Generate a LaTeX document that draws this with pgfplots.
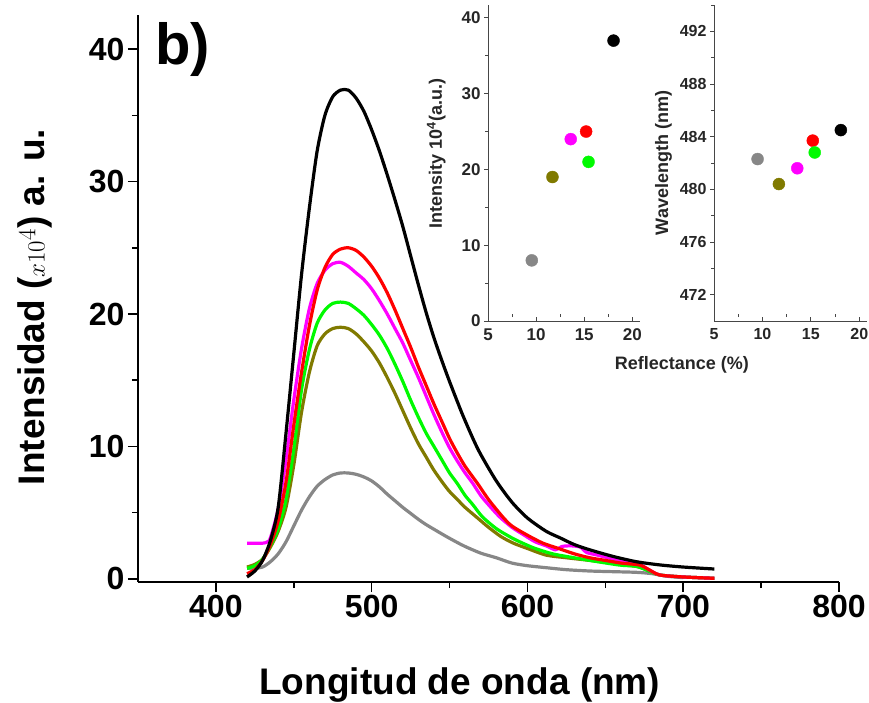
\documentclass[border=0pt]{standalone}
\usepackage{pgfplots}
\pgfplotsset{compat=1.18}
\usepackage{fontspec}
\setmainfont{Liberation Sans}
\definecolor{cRed}{RGB}{255,0,0}
\definecolor{cMag}{RGB}{255,0,255}
\definecolor{cGreen}{RGB}{0,250,0}
\definecolor{cOlive}{RGB}{128,122,0}
\definecolor{cGray}{RGB}{135,135,135}
\definecolor{cAx}{RGB}{70,70,70}
\begin{document}
\begin{tikzpicture}
\path[use as bounding box] (-138pt,-120pt) rectangle (731pt,582pt);
\begin{axis}[
  at={(0pt,0pt)}, anchor=south west,
  scale only axis, width=701pt, height=567pt,
  xmin=350, xmax=800, ymin=-0.23, ymax=42.57,
  axis lines=left, axis line style={-, line width=1.8pt},
  tick align=outside, major tick length=10pt, minor tick length=6pt,
  tick style={line width=1.5pt, black},
  xtick={400,500,...,800}, minor xtick={450,550,650,750},
  ytick={0,10,...,40}, minor ytick={5,15,25,35},
  /pgf/number format/assume math mode=true,
  ticklabel style={font=\bfseries\fontsize{32}{32}\selectfont},
  xlabel={\bfseries Longitud de onda (nm)},
  ylabel={\bfseries Intensidad ($x10^4$) a. u.},
  label style={font=\fontsize{37}{37}\selectfont},
  xlabel style={at={(axis description cs:0.459,-0.182)}, anchor=center},
  ylabel style={at={(axis description cs:-0.147,0.485)}, anchor=center, rotate=0},
  clip=false,
  every axis plot/.append style={line width=3.2pt, line join=round, smooth, tension=0.45},
]
% gray
\addplot[cGray] coordinates {
(420,0.8)(425,0.8)(430,0.9)(435,1.3)(440,1.9)(445,2.8)(450,4.0)(455,5.2)(460,6.2)(465,7.0)(470,7.5)(475,7.85)(480,8.0)(485,8.0)(490,7.9)(495,7.7)(500,7.4)(505,6.95)(510,6.4)(515,5.9)(520,5.4)(525,4.95)(530,4.5)(535,4.1)(540,3.75)(548,3.2)(555,2.75)(560,2.45)(570,1.95)(580,1.6)(590,1.2)(600,1.0)(612,0.85)(625,0.7)(640,0.6)(655,0.55)(670,0.5)(680,0.4)(690,0.2)(700,0.1)};
% olive
\addplot[cOlive] coordinates {
(420,0.9)(425,1.1)(430,1.5)(435,2.4)(440,3.6)(445,5.4)(450,8.6)(455,12.6)(460,15.6)(465,17.6)(470,18.5)(475,18.9)(480,19.0)(485,18.9)(490,18.5)(495,17.9)(500,17.2)(505,16.3)(510,15.2)(515,14.0)(520,12.7)(525,11.4)(530,10.2)(535,9.2)(540,8.2)(546,7.2)(550,6.6)(555,6.0)(560,5.4)(568,4.6)(575,3.9)(583,3.2)(591,2.7)(600,2.3)(612,1.8)(625,1.6)(640,1.4)(660,1.1)(672,0.9)(678,0.6)(685,0.3)(700,0.15)(720,0.05)};
% green
\addplot[cGreen] coordinates {
(420,0.8)(425,1.0)(430,1.5)(435,2.5)(440,3.8)(445,6.0)(450,9.8)(455,14.3)(460,17.3)(465,19.3)(470,20.3)(475,20.8)(480,20.9)(485,20.8)(490,20.4)(495,19.9)(500,19.2)(505,18.4)(510,17.4)(515,16.2)(520,14.9)(525,13.5)(530,12.2)(535,11.0)(540,10.0)(545,9.0)(550,8.0)(555,7.2)(560,6.3)(565,5.6)(571,4.7)(580,3.8)(590,3.1)(597,2.7)(605,2.3)(616,1.9)(625,1.7)(640,1.4)(659,1.05)(670,0.95)(678,0.6)(685,0.3)(700,0.15)(720,0.05)};
% magenta
\addplot[cMag] coordinates {
(420,2.7)(430,2.7)(433,2.8)(435,3.1)(440,5.3)(445,9.0)(450,13.5)(455,17.4)(460,20.4)(465,22.3)(470,23.3)(475,23.8)(480,23.9)(485,23.6)(490,23.1)(495,22.6)(500,21.9)(505,21.0)(510,20.0)(515,18.9)(520,17.8)(525,16.5)(530,15.2)(535,13.8)(540,12.4)(545,11.1)(550,9.9)(555,8.9)(560,8.0)(565,7.2)(570,6.3)(575,5.6)(582,4.7)(590,3.9)(598,3.3)(605,2.8)(612,2.5)(618,2.2)(622,2.45)(628,2.5)(634,2.4)(638,2.0)(645,1.8)(655,1.5)(665,1.3)(672,1.1)(678,0.7)(685,0.3)(700,0.15)(720,0.05)};
% red
\addplot[cRed] coordinates {
(420,0.4)(425,0.7)(430,1.4)(435,2.6)(440,4.4)(445,7.3)(450,11.6)(455,15.6)(460,19.1)(465,21.8)(470,23.5)(475,24.5)(480,24.9)(485,25.0)(490,24.8)(495,24.3)(500,23.6)(505,22.7)(510,21.6)(515,20.3)(520,18.9)(525,17.5)(530,16.0)(535,14.6)(540,13.2)(545,11.9)(550,10.6)(555,9.5)(560,8.5)(568,7.2)(575,6.0)(584,4.7)(590,4.0)(600,3.3)(610,2.7)(620,2.3)(630,1.9)(640,1.6)(650,1.4)(660,1.2)(672,1.05)(678,0.7)(685,0.3)(700,0.15)(720,0.05)};
% black
\addplot[black] coordinates {
(420,0.15)(425,0.6)(430,1.4)(435,2.9)(440,5.4)(445,11.0)(450,17.0)(455,23.0)(460,28.0)(465,32.3)(470,35.0)(475,36.4)(480,36.9)(485,36.9)(490,36.3)(495,35.3)(500,33.9)(505,32.3)(510,30.5)(515,28.6)(520,26.6)(525,24.4)(530,22.2)(535,20.1)(540,18.2)(545,16.5)(550,14.9)(558,12.5)(565,10.6)(570,9.4)(580,7.4)(590,5.8)(600,4.6)(612,3.6)(621,3.1)(630,2.6)(640,2.2)(655,1.7)(670,1.3)(685,1.06)(700,0.9)(720,0.75)};
\node[anchor=base west, font=\bfseries\fontsize{58}{58}\selectfont, inner sep=0pt] at (axis cs:361,38.8) {b)};
\end{axis}
% inset 1
\begin{axis}[
  at={(350pt,261pt)}, anchor=south west,
  scale only axis, width=152pt, height=316pt,
  xmin=5, xmax=20.8, ymin=0, ymax=41.7,
  axis lines=left, axis line style={-, line width=1pt, cAx},
  tick align=outside, major tick length=4pt, minor tick length=3pt,
  tick style={line width=0.8pt, cAx},
  x tick style={yshift=4pt}, minor x tick style={yshift=3pt},
  xtick={5,10,15,20}, minor xtick={7.5,12.5,17.5},
  ytick={0,10,...,40}, minor ytick={5,15,25,35},
  /pgf/number format/assume math mode=true,
  ticklabel style={font=\bfseries\fontsize{17}{17}\selectfont, text=black!85},
  ylabel={\bfseries Intensity 10\textsuperscript{4}(a.u.)},
  label style={font=\fontsize{18}{18}\selectfont, text=black!85},
  ylabel style={at={(axis description cs:-0.34,0.53)}, anchor=center},
  clip=false,
]
\addplot[only marks, mark=*, mark size=6pt, cGray, mark options={draw=none}] coordinates {(9.55,8)};
\addplot[only marks, mark=*, mark size=6pt, cOlive, mark options={draw=none}] coordinates {(11.7,19)};
\addplot[only marks, mark=*, mark size=6pt, cMag, mark options={draw=none}] coordinates {(13.6,24)};
\addplot[only marks, mark=*, mark size=6pt, cRed, mark options={draw=none}] coordinates {(15.2,25)};
\addplot[only marks, mark=*, mark size=6pt, cGreen, mark options={draw=none}] coordinates {(15.45,21)};
\addplot[only marks, mark=*, mark size=6pt, black, mark options={draw=none}] coordinates {(18.05,37)};
\end{axis}
% inset 2
\begin{axis}[
  at={(576pt,261pt)}, anchor=south west,
  scale only axis, width=153pt, height=316pt,
  xmin=5, xmax=20.8, ymin=470, ymax=494,
  axis lines=left, axis line style={-, line width=1pt, cAx},
  tick align=outside, major tick length=4pt, minor tick length=3pt,
  tick style={line width=0.8pt, cAx},
  x tick style={yshift=4pt}, minor x tick style={yshift=3pt},
  xtick={5,10,15,20}, minor xtick={7.5,12.5,17.5},
  ytick={472,476,...,492}, minor ytick={474,478,...,494},
  /pgf/number format/assume math mode=true,
  ticklabel style={font=\bfseries\fontsize{16}{16}\selectfont, text=black!85},
  ylabel={\bfseries Wavelength (nm)},
  xlabel={\bfseries Reflectance (\%)},
  label style={font=\fontsize{18}{18}\selectfont, text=black!85},
  ylabel style={at={(axis description cs:-0.33,0.5)}, anchor=center},
  xlabel style={at={(axis description cs:-0.21,-0.139)}, anchor=center},
  clip=false,
]
\addplot[only marks, mark=*, mark size=6pt, cGray, mark options={draw=none}] coordinates {(9.5,482.3)};
\addplot[only marks, mark=*, mark size=6pt, cOlive, mark options={draw=none}] coordinates {(11.7,480.4)};
\addplot[only marks, mark=*, mark size=6pt, cMag, mark options={draw=none}] coordinates {(13.6,481.6)};
\addplot[only marks, mark=*, mark size=6pt, cRed, mark options={draw=none}] coordinates {(15.2,483.7)};
\addplot[only marks, mark=*, mark size=6pt, cGreen, mark options={draw=none}] coordinates {(15.4,482.8)};
\addplot[only marks, mark=*, mark size=6pt, black, mark options={draw=none}] coordinates {(18.1,484.5)};
\end{axis}
\end{tikzpicture}
\end{document}
